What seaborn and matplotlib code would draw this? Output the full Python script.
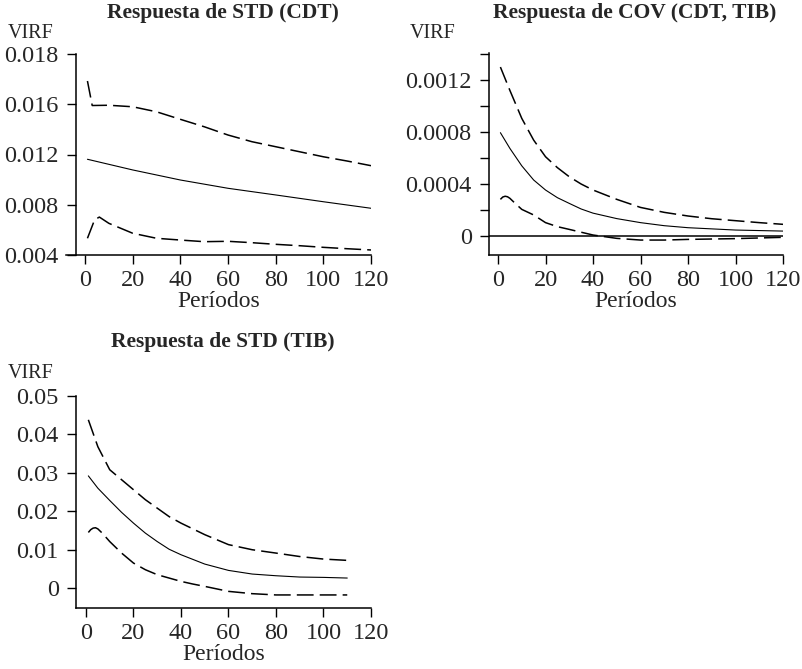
import matplotlib
matplotlib.use("Agg")
import matplotlib.pyplot as plt
import seaborn as sns
import numpy as np

sns.set_style("ticks")
plt.rcParams['font.family'] = ['Liberation Serif', 'DejaVu Serif']

# ---------------- data ----------------
titles = ["Respuesta de STD (CDT)", "Respuesta de COV (CDT, TIB)", "Respuesta de STD (TIB)"]
x_label = "Períodos"
y_label = "VIRF"
x_ticks = [0, 20, 40, 60, 80, 100, 120]

# Panel 1: STD (CDT)
p1_mid_t = [1, 20, 40, 60, 80, 100, 120]
p1_mid_v = [0.01162, 0.01077, 0.00997, 0.00931, 0.00878, 0.00824, 0.00772]
p1_up_t = [1, 3, 10, 20, 30, 40, 50, 60, 70, 80, 90, 100, 110, 120]
p1_up_v = [0.01785, 0.01590, 0.01592, 0.01580, 0.01540, 0.01480, 0.01421, 0.01355,
           0.01302, 0.01262, 0.01222, 0.01182, 0.01148, 0.01111]
p1_lo_t = [1, 4, 6, 10, 20, 30, 40, 50, 60, 70, 80, 90, 100, 110, 120]
p1_lo_v = [0.00533, 0.00680, 0.00702, 0.00652, 0.00573, 0.00533, 0.00519, 0.00506, 0.00509,
           0.00498, 0.00485, 0.00474, 0.00461, 0.00450, 0.00440]
p1_yticks = [0.004, 0.008, 0.012, 0.016, 0.020]
p1_yticklabels = ["0.004", "0.008", "0.012", "0.016", "0.018"]

# Panel 2: COV (CDT, TIB)
p2_mid_t = [1, 5, 10, 15, 20, 25, 30, 35, 40, 50, 60, 70, 80, 100, 120]
p2_mid_v = [0.000795, 0.000674, 0.000540, 0.000431, 0.000354, 0.000295, 0.000251,
            0.000208, 0.000176, 0.000134, 0.000103, 0.0000795, 0.000064, 0.000046, 0.000038]
p2_up_t = [1, 5, 10, 15, 20, 25, 30, 35, 40, 50, 60, 70, 80, 90, 100, 110, 120]
p2_up_v = [0.00130, 0.00112, 0.000905, 0.000738, 0.00061, 0.000526, 0.000456, 0.0004,
           0.000354, 0.000282, 0.00022, 0.000182, 0.000154, 0.000133, 0.000118, 0.000103, 0.00009]
p2_lo_t = [1, 2, 3, 4, 5, 7, 10, 15, 20, 25, 30, 40, 50, 60, 70, 80, 100, 120]
p2_lo_v = [0.000282, 0.000300, 0.000306, 0.000302, 0.000290, 0.000255, 0.000205, 0.000162,
           0.000103, 0.000072, 0.000051, 0.0000077, -0.000018, -0.000031, -0.000031,
           -0.000026, -0.00002, -0.00001]
p2_yticks = [0, 0.0004, 0.0008, 0.0012]
p2_yticklabels = ["0", "0.0004", "0.0008", "0.0012"]
p2_yminor = [0.0002, 0.0006, 0.0010, 0.0014]

# Panel 3: STD (TIB)
p3_mid_t = [1, 5, 10, 15, 20, 25, 30, 35, 40, 50, 60, 70, 80, 90, 100, 110]
p3_mid_v = [0.0292, 0.0260, 0.0228, 0.0197, 0.0169, 0.0143, 0.0121, 0.0101, 0.00867,
            0.00624, 0.00459, 0.00364, 0.0032, 0.00286, 0.00277, 0.0026]
p3_up_t = [1, 5, 10, 15, 20, 25, 30, 35, 40, 50, 60, 70, 80, 90, 100, 110]
p3_up_v = [0.0438, 0.0368, 0.0308, 0.0282, 0.0256, 0.0230, 0.0208, 0.0186, 0.0169, 0.0139,
           0.0113, 0.00997, 0.0091, 0.0082, 0.00754, 0.0072]
p3_lo_t = [1, 2, 3, 4, 5, 7, 10, 15, 20, 25, 30, 40, 45, 50, 60, 70, 80, 90, 100, 110]
p3_lo_v = [0.01447, 0.0152, 0.0156, 0.0157, 0.0154, 0.0142, 0.0121, 0.0091, 0.0065, 0.00477,
           0.00347, 0.00173, 0.00104, 0.00043, -0.00087, -0.00147, -0.0018, -0.0018,
           -0.0018, -0.0018]
p3_yticks = [0, 0.01, 0.02, 0.03, 0.04, 0.05]
p3_yticklabels = ["0", "0.01", "0.02", "0.03", "0.04", "0.05"]

# ---------------- figure ----------------
W, H = 803, 669
fig = plt.figure(figsize=(W / 100, H / 100), dpi=100)


def frac(l, t, r, b):
    return [l / W, 1 - b / H, (r - l) / W, (b - t) / H]


ax1 = fig.add_axes(frac(66, 54, 371, 255))
ax2 = fig.add_axes(frac(489, 53, 783, 255))
ax3 = fig.add_axes(frac(76, 396, 371, 608))

dash = (0, (11, 4))
tick_fs = 17.5


def draw(ax, mid, up, lo):
    sns.lineplot(x=mid[0], y=mid[1], ax=ax, color="black", linewidth=0.8)
    sns.lineplot(x=up[0], y=up[1], ax=ax, color="black", linewidth=1.1, linestyle=dash)
    sns.lineplot(x=lo[0], y=lo[1], ax=ax, color="black", linewidth=1.1, linestyle=dash)
    for s in ["top", "right"]:
        ax.spines[s].set_visible(False)
    for s in ["left", "bottom"]:
        ax.spines[s].set_color("black")
        ax.spines[s].set_linewidth(1.1)
    ax.set_xticks(x_ticks)
    ax.set_xticklabels([str(v) for v in x_ticks])
    ax.tick_params(axis="both", which="both", direction="out", length=6.5, width=1.0,
                   color="black", labelsize=tick_fs, pad=4)
    ax.tick_params(axis="y", pad=6)
    ax.set_xlabel(x_label, fontsize=17, labelpad=0)
    ax.set_ylabel("")
    ax.grid(False)


draw(ax1, (p1_mid_t, p1_mid_v), (p1_up_t, p1_up_v), (p1_lo_t, p1_lo_v))
ax1.set_xlim(-8, 120)
ax1.set_ylim(0.004, 0.020)
ax1.set_yticks(p1_yticks)
ax1.set_yticklabels(p1_yticklabels)
ax1.spines["left"].set_position(("data", -3.8))

draw(ax2, (p2_mid_t, p2_mid_v), (p2_up_t, p2_up_v), (p2_lo_t, p2_lo_v))
ax2.axhline(0, color="black", linewidth=1.1, zorder=1)
ax2.set_xlim(-3.8, 120)
ax2.set_ylim(-0.000146, 0.001408)
ax2.set_yticks(p2_yticks)
ax2.set_yticklabels(p2_yticklabels)
ax2.set_yticks(p2_yminor, minor=True)
ax2.tick_params(axis="y", which="minor", length=6.5, width=1.0)

draw(ax3, (p3_mid_t, p3_mid_v), (p3_up_t, p3_up_v), (p3_lo_t, p3_lo_v))
ax3.set_xlim(-4.2, 120)
ax3.set_ylim(-0.0052, 0.05)
ax3.set_yticks(p3_yticks)
ax3.set_yticklabels(p3_yticklabels)

# titles and VIRF labels
fig.text(223 / W, 1 - 13 / H, titles[0], ha="center", va="center", fontsize=15.5, fontweight="bold")
fig.text(635 / W, 1 - 13 / H, titles[1], ha="center", va="center", fontsize=15.5, fontweight="bold")
fig.text(223 / W, 1 - 342 / H, titles[2], ha="center", va="center", fontsize=15.5, fontweight="bold")
fig.text(8 / W, 1 - 34 / H, y_label, ha="left", va="center", fontsize=14.5)
fig.text(410 / W, 1 - 34 / H, y_label, ha="left", va="center", fontsize=14.5)
fig.text(8 / W, 1 - 374 / H, y_label, ha="left", va="center", fontsize=14.5)

fig.savefig("out.png", dpi=100)
